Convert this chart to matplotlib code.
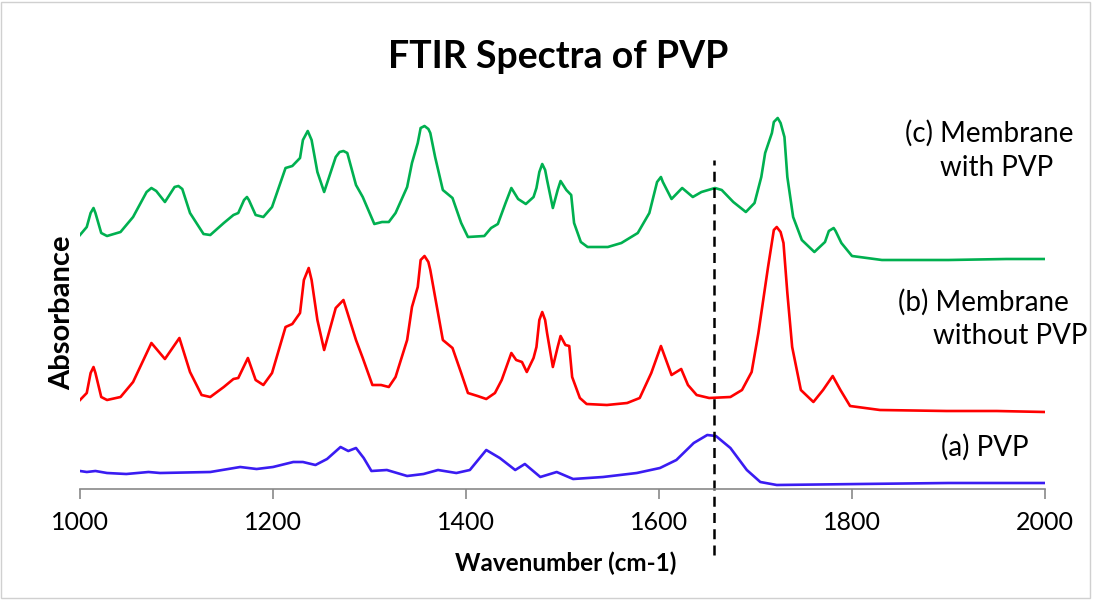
import matplotlib
matplotlib.use('Agg')
import matplotlib.pyplot as plt
from matplotlib.patches import Rectangle

# wavenumber (cm-1) / absorbance (arbitrary offset units)
wn_c = [1000, 1007, 1011, 1014, 1016, 1022, 1028, 1042, 1055, 1069, 1074, 1079, 1088, 1098, 1102, 1106,
        1114, 1128, 1135, 1149, 1159, 1164, 1170, 1173, 1175, 1182, 1190, 1199, 1213, 1220, 1228, 1231,
        1236, 1240, 1246, 1253, 1265, 1269, 1273, 1277, 1286, 1293, 1305, 1313, 1320, 1327, 1339, 1344,
        1350, 1353, 1357, 1361, 1363, 1368, 1376, 1386, 1395, 1402, 1419, 1426, 1433, 1441, 1447, 1454,
        1462, 1470, 1473, 1476, 1479, 1482, 1484, 1490, 1495, 1498, 1504, 1509, 1512, 1519, 1526, 1547,
        1561, 1578, 1590, 1598, 1602, 1604, 1613, 1624, 1635, 1644, 1658, 1665, 1677, 1690, 1699, 1706,
        1710, 1717, 1719, 1723, 1726, 1730, 1733, 1739, 1748, 1761, 1772, 1776, 1781, 1783, 1789, 1800,
        1831, 1900, 1960, 2000]
ab_c = [254, 262, 276, 281, 276, 256, 253, 257, 272, 297, 301, 298, 287, 302, 303, 300,
        276, 255, 254, 266, 274, 276, 289, 292, 289, 274, 272, 282, 321, 323, 331, 349,
        358, 349, 317, 297, 332, 337, 338, 336, 304, 292, 265, 267, 267, 276, 302, 326,
        346, 361, 363, 360, 356, 332, 299, 291, 266, 252, 253, 261, 265, 286, 301, 290,
        285, 292, 301, 317, 325, 319, 309, 281, 299, 308, 299, 294, 266, 247, 242, 242,
        246, 256, 276, 307, 312, 307, 290, 301, 292, 297, 301, 299, 287, 277, 286, 312,
        336, 356, 367, 371, 366, 352, 312, 272, 249, 237, 247, 258, 261, 258, 246, 233,
        229, 229, 230, 230]

wn_b = [1000, 1007, 1011, 1014, 1016, 1022, 1028, 1042, 1055, 1074, 1088, 1103, 1114, 1126, 1135, 1149,
        1159, 1164, 1174, 1182, 1190, 1199, 1213, 1220, 1228, 1232, 1237, 1240, 1246, 1253, 1265, 1273,
        1286, 1293, 1303, 1312, 1320, 1327, 1339, 1344, 1350, 1353, 1357, 1361, 1363, 1368, 1376, 1386,
        1395, 1402, 1412, 1421, 1430, 1437, 1447, 1452, 1458, 1463, 1470, 1473, 1476, 1479, 1482, 1484,
        1490, 1495, 1498, 1503, 1507, 1510, 1518, 1525, 1546, 1567, 1580, 1592, 1602, 1613, 1623, 1630,
        1639, 1652, 1674, 1686, 1696, 1703, 1708, 1713, 1719, 1722, 1726, 1729, 1733, 1738, 1747, 1760,
        1770, 1780, 1788, 1798, 1829, 1898, 1950, 2000]
ab_b = [89, 96, 116, 122, 116, 92, 89, 92, 107, 146, 130, 151, 117, 94, 92, 102,
        110, 111, 131, 109, 104, 116, 162, 165, 176, 209, 221, 209, 169, 139, 181, 189,
        149, 131, 104, 104, 102, 112, 149, 182, 202, 229, 233, 227, 219, 192, 149, 141,
        116, 96, 93, 90, 96, 109, 136, 129, 127, 117, 131, 142, 169, 177, 169, 156,
        122, 142, 153, 144, 143, 112, 91, 85, 84, 86, 91, 116, 143, 114, 120, 104,
        94, 91, 92, 99, 117, 156, 189, 222, 259, 262, 257, 246, 196, 142, 99, 87,
        99, 113, 99, 83, 79, 78, 78, 77]

wn_a = [1000, 1007, 1016, 1028, 1048, 1071, 1083, 1135, 1166, 1183, 1200, 1221, 1231, 1244, 1256, 1270,
        1278, 1286, 1294, 1302, 1318, 1339, 1356, 1371, 1390, 1404, 1421, 1435, 1451, 1461, 1477, 1494,
        1511, 1542, 1577, 1601, 1618, 1636, 1650, 1659, 1674, 1691, 1705, 1722, 1808, 1900, 2000]
ab_a = [18, 17, 18, 16, 15, 17, 16, 17, 22, 20, 22, 27, 27, 24, 30, 42,
        38, 41, 31, 18, 19, 13, 15, 19, 16, 19, 39, 31, 19, 25, 12, 17,
        10, 12, 16, 21, 29, 46, 54, 53, 41, 19, 7, 4, 5, 6, 6]

marker_wn = 1657
xticks = [1000, 1200, 1400, 1600, 1800, 2000]

plt.rcParams['font.family'] = ['Lato', 'DejaVu Sans']

W, H = 1093, 600
fig = plt.figure(figsize=(W / 100, H / 100), dpi=100)
ax = fig.add_axes([80 / W, 1 - 489 / H, 965 / W, 389 / H])

for wn, ab, col in [(wn_c, ab_c, '#00B050'), (wn_b, ab_b, '#FF0000'), (wn_a, ab_a, '#3A1CF2')]:
    ax.plot(wn, ab, color=col, lw=1.9, solid_joinstyle='round')
ax.plot([marker_wn, marker_wn], [-66, 329], color='black', lw=1.8,
        ls=(0, (4, 2.5)), clip_on=False)

ax.set_xlim(1000, 2000)
ax.set_ylim(0, 389)
ax.set_xticks(xticks)
ax.set_yticks([])
for s in ['top', 'right', 'left']:
    ax.spines[s].set_visible(False)
ax.spines['bottom'].set_color('#898989')
ax.spines['bottom'].set_linewidth(1.2)
ax.tick_params(axis='x', colors='#898989', length=7, width=1.2, labelsize=18, pad=9,
               labelcolor='black')

def px_text(x, y, s, **kw):
    fig.text(x / W, 1 - y / H, s, ha='center', va='center', **kw)

px_text(558, 57, 'FTIR Spectra of PVP', fontsize=27, fontweight='bold')
px_text(566, 563, 'Wavenumber (cm-1)', fontsize=17.5, fontweight='bold')
px_text(62, 313, 'Absorbance', fontsize=21, fontweight='bold', rotation=90)

# curve labels
labels = [('(c) Membrane', 989, 133), ('with PVP', 997, 168),
          ('(b) Membrane', 983, 302), ('without PVP', 1010, 336),
          ('(a) PVP', 985, 447)]
for txt, px, py in labels:
    px_text(px, py, txt, fontsize=20)

fig.add_artist(Rectangle((0.001, 0.003), 0.996, 0.994, transform=fig.transFigure,
                         fill=False, edgecolor='#d0d0d0', lw=1))

fig.savefig('out.png', dpi=100)
